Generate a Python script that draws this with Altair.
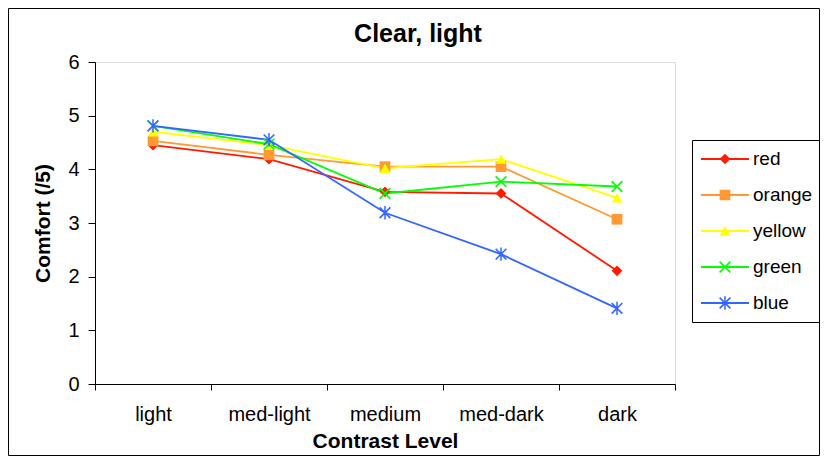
import altair as alt
import pandas as pd

levels = ["light", "med-light", "medium", "med-dark", "dark"]
series_names = ["red", "orange", "yellow", "green", "blue"]
red = [4.45, 4.19, 3.58, 3.55, 2.11]
orange = [4.53, 4.27, 4.05, 4.05, 3.07]
yellow = [4.70, 4.45, 4.02, 4.19, 3.47]
green = [4.81, 4.47, 3.55, 3.77, 3.68]
blue = [4.81, 4.55, 3.19, 2.42, 1.41]
y_ticks = [0, 1, 2, 3, 4, 5, 6]

series_colors = ["#FF1A00", "#FF9933", "#FFFF00", "#00FF00", "#3366FF"]
# filled marker outlines: diamond, square, triangle, thin-armed X, asterisk
cross_path = (
    "M-0.894,-1.106L1.106,0.894L0.894,1.106L-1.106,-0.894Z"
    "M-1.106,0.894L0.894,-1.106L1.106,-0.894L-0.894,1.106Z"
)
asterisk_path = cross_path + "M-0.14,-1.25L0.14,-1.25L0.14,1.25L-0.14,1.25Z"
marker_shapes = ["diamond", "square", "triangle-up", cross_path, asterisk_path]

rows = []
for name, vals in zip(series_names, [red, orange, yellow, green, blue]):
    for lvl, v in zip(levels, vals):
        rows.append({"level": lvl, "series": name, "marker": name, "comfort": v})
df = pd.DataFrame(rows)

FONT = "Liberation Sans"

x_enc = alt.X(
    "level:N",
    sort=levels,
    scale=alt.Scale(type="band", paddingInner=0, paddingOuter=0),
    axis=alt.Axis(
        title="Contrast Level",
        labelAngle=0,
        tickBand="extent",
        tickSize=6,
        labelPadding=14,
        labelFontSize=20,
        labelFont=FONT,
        labelColor="black",
        titleFont=FONT,
        titleFontSize=21,
        titleFontWeight="bold",
        titleColor="black",
        titlePadding=6,
        domainColor="black",
        tickColor="black",
        grid=False,
    ),
)
y_enc = alt.Y(
    "comfort:Q",
    scale=alt.Scale(domain=[0, 6], nice=False),
    axis=alt.Axis(
        title="Comfort (/5)",
        values=y_ticks,
        format="d",
        grid=False,
        tickSize=7,
        labelPadding=9,
        labelFontSize=20,
        labelFont=FONT,
        labelColor="black",
        titleFont=FONT,
        titleFontSize=21,
        titleFontWeight="bold",
        titleColor="black",
        titlePadding=14,
        domainColor="black",
        tickColor="black",
    ),
)

LX, LY = 597, 78

line_legend = alt.Legend(
    orient="none",
    legendX=LX,
    legendY=LY,
    title=None,
    symbolType="stroke",
    symbolSize=2304,
    symbolStrokeWidth=1.8,
    clipHeight=22,
    rowPadding=14,
    padding=8,
    labelOffset=3,
    labelFontSize=19,
    labelFont=FONT,
    labelColor="black",
    labelLimit=200,
    strokeColor="black",
)

point_legend = alt.Legend(
    orient="none",
    legendX=LX,
    legendY=LY,
    title=None,
    symbolSize=115,
    symbolStrokeWidth=0,
    clipHeight=22,
    rowPadding=14,
    padding=8,
    symbolOffset=15.5,
    labelOffset=3,
    labelFontSize=19,
    labelFont=FONT,
    labelExpr="''",
    labelLimit=200,
)

lines = alt.Chart(df).mark_line(strokeWidth=1.8).encode(
    x=x_enc,
    y=y_enc,
    stroke=alt.Stroke(
        "series:N",
        sort=series_names,
        scale=alt.Scale(range=series_colors),
        legend=line_legend,
    ),
    detail="series:N",
)

points = alt.Chart(df).mark_point(filled=True, size=115, opacity=1).encode(
    x=x_enc,
    y=y_enc,
    color=alt.Color(
        "marker:N",
        scale=alt.Scale(domain=series_names, range=series_colors),
        legend=point_legend,
    ),
    shape=alt.Shape(
        "marker:N",
        scale=alt.Scale(domain=series_names, range=marker_shapes),
        legend=point_legend,
    ),
)

frame = alt.Chart(pd.DataFrame({"k": [0]})).mark_rect(
    filled=False, stroke="black", strokeWidth=1
).encode(
    x=alt.value(-86.5),
    x2=alt.value(724.5),
    y=alt.value(-53.5),
    y2=alt.value(393.5),
)

chart = (
    alt.layer(frame, lines, points)
    .properties(
        width=580,
        height=322,
        autosize=alt.AutoSizeParams(type="none"),
        padding={"left": 87, "top": 54, "right": 145, "bottom": 72},
        title=alt.TitleParams(
            "Clear, light",
            font=FONT,
            fontSize=25,
            fontWeight="bold",
            color="black",
            anchor="middle",
            dx=33,
            dy=53,
            offset=14,
        ),
    )
    .configure_view(stroke="#808080", strokeWidth=1.5)
    .configure(background="white")
)

chart.save("out.html", embed_options={"renderer": "svg", "actions": False})
